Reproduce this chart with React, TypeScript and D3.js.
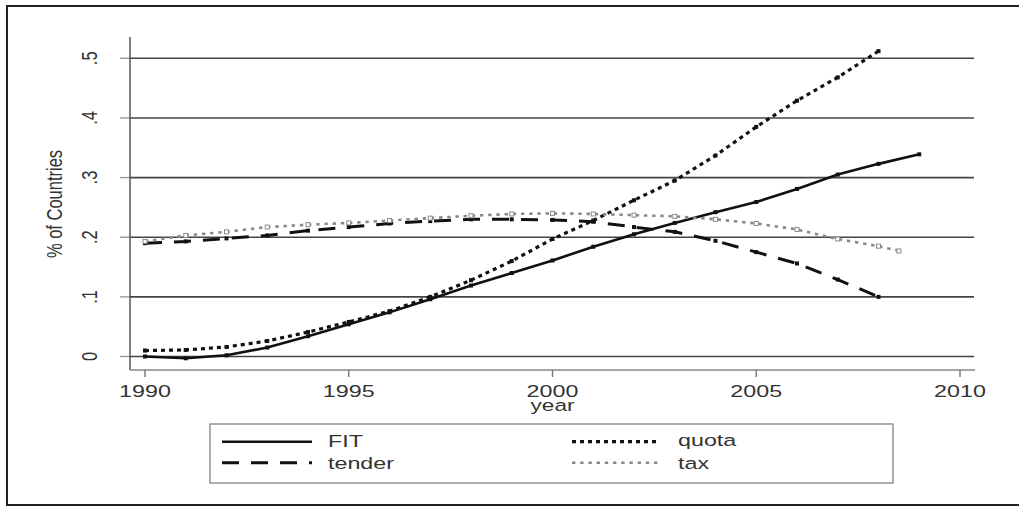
import React from "react";
import * as d3 from "d3";

const years = [1990, 1991, 1992, 1993, 1994, 1995, 1996, 1997, 1998, 1999, 2000, 2001, 2002, 2003, 2004, 2005, 2006, 2007, 2008, 2009];
const fitValues = [0, -0.003, 0.002, 0.015, 0.034, 0.054, 0.074, 0.096, 0.119, 0.14, 0.161, 0.184, 0.205, 0.224, 0.242, 0.259, 0.281, 0.305, 0.323, 0.339];
const tenderValues = [0.19, 0.193, 0.198, 0.203, 0.211, 0.217, 0.223, 0.227, 0.23, 0.23, 0.229, 0.226, 0.217, 0.209, 0.194, 0.175, 0.156, 0.129, 0.1];
const quotaValues = [0.01, 0.011, 0.016, 0.026, 0.041, 0.058, 0.076, 0.1, 0.128, 0.16, 0.197, 0.228, 0.262, 0.295, 0.337, 0.385, 0.429, 0.468, 0.512];
const taxYears = [1990, 1991, 1992, 1993, 1994, 1995, 1996, 1997, 1998, 1999, 2000, 2001, 2002, 2003, 2004, 2005, 2006, 2007, 2008, 2008.5];
const taxValues = [0.193, 0.203, 0.209, 0.217, 0.221, 0.224, 0.228, 0.232, 0.236, 0.239, 0.24, 0.239, 0.237, 0.235, 0.23, 0.223, 0.213, 0.197, 0.185, 0.177];

const xTicks = [1990, 1995, 2000, 2005, 2010];
const yTicks = [0, 0.1, 0.2, 0.3, 0.4, 0.5];
const yTickLabels = ["0", ".1", ".2", ".3", ".4", ".5"];
const seriesNames = ["FIT", "tender", "quota", "tax"];

const FONT = "'Liberation Sans', Arial, sans-serif";
const SX = 1.37;

export default function App() {
  const x = d3.scaleLinear().domain([1990, 2010]).range([145, 960]);
  const y = d3.scaleLinear().domain([0, 0.5]).range([356.5, 58.3]);

  const mk = (xs: number[], vs: number[]) => xs.slice(0, vs.length).map((yr, i) => [yr, vs[i]] as [number, number]);
  const line = d3.line<[number, number]>().x((d) => x(d[0])).y((d) => y(d[1]));

  const series = [
    { name: seriesNames[0], data: mk(years, fitValues), stroke: "#111", width: 2.6, dash: "", marker: "#111", hollow: false },
    { name: seriesNames[1], data: mk(years, tenderValues), stroke: "#111", width: 3, dash: "17,12", marker: "#111", hollow: false },
    { name: seriesNames[2], data: mk(years, quotaValues), stroke: "#111", width: 3.2, dash: "4,4", marker: "#111", hollow: false },
    { name: seriesNames[3], data: mk(taxYears, taxValues), stroke: "#8a8a8a", width: 2.6, dash: "3.4,4.8", marker: "#8a8a8a", hollow: true },
  ];

  const plotLeft = 130;
  const plotRight = 975;
  const axisY = 370;

  const legendKeys = [
    { s: series[0], x1: 222, x2: 312, y: 441.7, tx: 328, ty: 446.5 },
    { s: series[1], x1: 222, x2: 312, y: 462.7, tx: 328, ty: 469 },
    { s: series[2], x1: 572, x2: 660, y: 441.7, tx: 678, ty: 446 },
    { s: series[3], x1: 572, x2: 660, y: 462.7, tx: 678, ty: 469 },
  ];

  return (
    <svg
      width={1019}
      height={507}
      style={{ position: "absolute", left: 0, top: 0, background: "#fff" }}
      fontFamily={FONT}
    >
      <rect x={0} y={0} width={1019} height={507} fill="#fff" />
      {/* outer frame */}
      <rect x={7} y={6} width={1020} height={499} fill="none" stroke="#222" strokeWidth={2} />

      {/* gridlines */}
      {yTicks.map((t, i) => (
        <g key={"g" + i}>
          <line x1={plotLeft} x2={974} y1={y(t)} y2={y(t)} stroke="#444" strokeWidth={1.6} />
          <line x1={120} x2={plotLeft} y1={y(t)} y2={y(t)} stroke="#999" strokeWidth={1.4} />
          <text
            transform={`translate(97,${y(t)}) scale(${SX},1) rotate(-90)`}
            textAnchor="middle"
            fontSize={16.5}
            fill="#333"
          >
            {yTickLabels[i]}
          </text>
        </g>
      ))}

      {/* axes */}
      <line x1={plotLeft} x2={plotLeft} y1={37} y2={axisY} stroke="#555" strokeWidth={1.5} />
      <line x1={plotLeft} x2={plotRight} y1={axisY} y2={axisY} stroke="#888" strokeWidth={1.5} />
      {xTicks.map((t) => (
        <g key={"x" + t}>
          <line x1={x(t)} x2={x(t)} y1={axisY} y2={axisY + 7} stroke="#777" strokeWidth={1.4} />
          <text transform={`translate(${x(t)},396.5) scale(${SX},1)`} textAnchor="middle" fontSize={17} fill="#333">
            {t}
          </text>
        </g>
      ))}
      <text transform={`translate(${x(2000)},411) scale(${SX},1)`} textAnchor="middle" fontSize={16.5} fill="#333">
        year
      </text>
      <text transform={`translate(62,204) scale(${SX},1) rotate(-90)`} textAnchor="middle" fontSize={16.5} fill="#333">
        % of Countries
      </text>

      {/* series */}
      {series.map((s) => (
        <g key={s.name}>
          <path d={line(s.data) || ""} fill="none" stroke={s.stroke} strokeWidth={s.width} strokeDasharray={s.dash || undefined} />
          {s.data.map((d, i) =>
            s.hollow ? (
              <rect key={i} x={x(d[0]) - 2} y={y(d[1]) - 2} width={4} height={4} fill="#fff" stroke={s.marker} strokeWidth={1} />
            ) : (
              <rect key={i} x={x(d[0]) - 2} y={y(d[1]) - 2} width={4} height={4} fill={s.marker} />
            )
          )}
        </g>
      ))}

      {/* legend */}
      <rect x={210} y={424} width={683} height={59} fill="#fff" stroke="#777" strokeWidth={1.2} />
      {legendKeys.map((k) => (
        <g key={"l" + k.s.name}>
          <line x1={k.x1} x2={k.x2} y1={k.y} y2={k.y} stroke={k.s.stroke} strokeWidth={k.s.width} strokeDasharray={k.s.dash || undefined} />
          <text transform={`translate(${k.tx},${k.ty}) scale(${SX},1)`} fontSize={17} fill="#333">
            {k.s.name}
          </text>
        </g>
      ))}
    </svg>
  );
}
